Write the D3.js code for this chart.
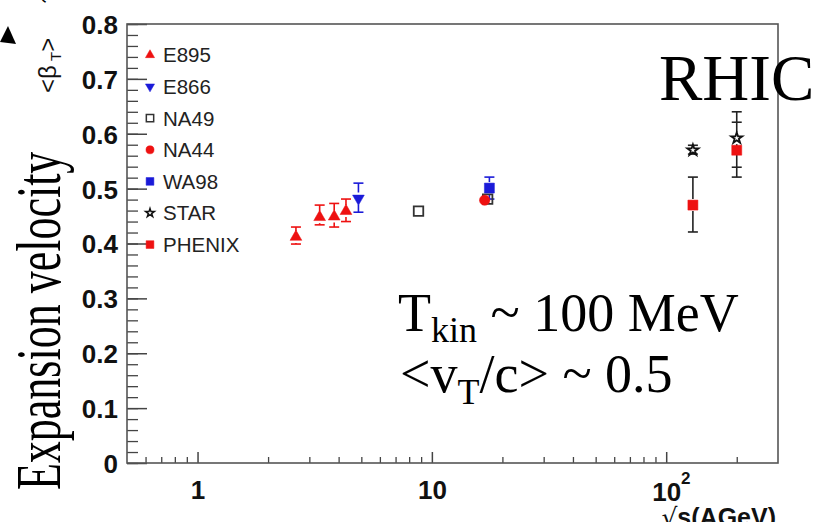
<!DOCTYPE html>
<html>
<head>
<meta charset="utf-8">
<script src="https://cdn.jsdelivr.net/npm/d3@7"></script>
<style>
  body { margin: 0; background: #fff; }
  svg { display: block; }
  .tick text { font-family: "Liberation Sans", Arial, sans-serif; font-weight: bold; fill: #111; }
  .legend text { font-family: "Liberation Sans", Arial, sans-serif; font-size: 20.5px; fill: #222; }
  .serif { font-family: "Liberation Serif", "Times New Roman", serif; fill: #000; }
</style>
</head>
<body>
<div id="chart"></div>
<script>
// data: sqrt(s) in AGeV, <beta_T>, error bar ends
const e895Energy = [2.63, 3.32, 3.83, 4.3]
const e895Beta = [0.412, 0.448, 0.449, 0.459]
const e895Low = [0.399, 0.434, 0.430, 0.440]
const e895High = [0.430, 0.470, 0.473, 0.481]

const e866Energy = [4.86]
const e866Beta = [0.482]
const e866Low = [0.457]
const e866High = [0.510]

const na49Energy = [8.77, 17.3]
const na49Beta = [0.459, 0.481]

const na44Energy = [16.8]
const na44Beta = [0.479]

const wa98Energy = [17.6]
const wa98Beta = [0.501]
const wa98Low = [0.481]
const wa98High = [0.521]

const starEnergy = [130, 200]
const starBeta = [0.570, 0.592]
const starLow = [0.563, 0.521]
const starHigh = [0.579, 0.640]
const starStatLow = [null, 0.539]
const starStatHigh = [null, 0.621]

const phenixEnergy = [130, 200]
const phenixBeta = [0.470, 0.570]
const phenixLow = [0.421, null]
const phenixHigh = [0.521, null]

const legendNames = ['E895', 'E866', 'NA49', 'NA44', 'WA98', 'STAR', 'PHENIX']
const xMajorTicks = [1, 10, 100]
const xMinorTicks = [0.6, 0.7, 0.8, 0.9, 2, 3, 4, 5, 6, 7, 8, 9, 20, 30, 40, 50, 60, 70, 80, 90, 200]
const yMajorTicks = [0, 0.1, 0.2, 0.3, 0.4, 0.5, 0.6, 0.7, 0.8]

const RED = '#ee1111'
const BLUE = '#1a1ad8'
const DARK = '#333'

const series = [
  { name: 'E895', energy: e895Energy, beta: e895Beta, low: e895Low, high: e895High, symbol: d3.symbolTriangle, size: 60, rot: 0, fill: RED, stroke: RED },
  { name: 'E866', energy: e866Energy, beta: e866Beta, low: e866Low, high: e866High, symbol: d3.symbolTriangle, size: 60, rot: 180, fill: BLUE, stroke: BLUE },
  { name: 'NA49', energy: na49Energy, beta: na49Beta, symbol: d3.symbolSquare, size: 90, rot: 0, fill: 'none', stroke: DARK },
  { name: 'NA44', energy: na44Energy, beta: na44Beta, symbol: d3.symbolCircle, size: 85, rot: 0, fill: RED, stroke: RED },
  { name: 'WA98', energy: wa98Energy, beta: wa98Beta, low: wa98Low, high: wa98High, symbol: d3.symbolSquare, size: 100, rot: 0, fill: BLUE, stroke: BLUE },
  { name: 'STAR', energy: starEnergy, beta: starBeta, low: starLow, high: starHigh, statLow: starStatLow, statHigh: starStatHigh, symbol: d3.symbolStar, size: 38, rot: 0, fill: 'none', stroke: '#111' },
  { name: 'PHENIX', energy: phenixEnergy, beta: phenixBeta, low: phenixLow, high: phenixHigh, symbol: d3.symbolSquare, size: 100, rot: 0, fill: RED, stroke: RED }
]

const width = 823
const height = 522
const frame = { left: 127, right: 778, top: 24, bottom: 463 }

const svg = d3.select('#chart').append('svg')
  .attr('width', width)
  .attr('height', height)

const x = d3.scaleLog()
  .domain([0.5, 300])
  .range([frame.left, frame.right])
const y = d3.scaleLinear()
  .domain([0, 0.8])
  .range([frame.bottom, frame.top])

// y axis, ticks inside the frame
const yAxis = svg.append('g')
  .attr('transform', `translate(${frame.left},0)`)
  .call(d3.axisLeft(y).tickValues(yMajorTicks).tickSize(-20).tickPadding(9).tickFormat(d => d === 0 ? '0' : d3.format('.1f')(d)))
yAxis.select('.domain').remove()
yAxis.selectAll('.tick line').attr('stroke', '#444').attr('stroke-width', 1.5)
yAxis.selectAll('.tick text').attr('font-size', 26).attr('dy', '0.36em')

svg.append('g')
  .attr('transform', `translate(${frame.left},0)`)
  .call(d3.axisLeft(y).ticks(40).tickSize(-11).tickFormat(''))
  .call(g => g.select('.domain').remove())
  .selectAll('.tick line').attr('stroke', '#444').attr('stroke-width', 1.3)

// x axis
const xAxis = svg.append('g')
  .attr('transform', `translate(0,${frame.bottom})`)
  .call(d3.axisBottom(x).tickValues(xMajorTicks).tickSize(-11).tickPadding(18).tickFormat(d => d === 100 ? '' : String(d)))
xAxis.select('.domain').remove()
xAxis.selectAll('.tick line').attr('stroke', '#444').attr('stroke-width', 1.5)
xAxis.selectAll('.tick text').attr('font-size', 26)

svg.append('g')
  .attr('transform', `translate(0,${frame.bottom})`)
  .call(d3.axisBottom(x).tickValues(xMinorTicks).tickSize(-6).tickFormat(''))
  .call(g => g.select('.domain').remove())
  .selectAll('.tick line').attr('stroke', '#444').attr('stroke-width', 1.3)

// 10^2 label
const hundred = svg.append('text')
  .attr('x', x(100) - 14)
  .attr('y', frame.bottom + 38)
  .attr('font-family', 'Liberation Sans, Arial, sans-serif')
  .attr('font-weight', 'bold')
  .attr('font-size', 26)
  .attr('fill', '#111')
hundred.append('tspan').text('10')
hundred.append('tspan').attr('dy', -17).attr('font-size', 17).text('2')

// frame
svg.append('rect')
  .attr('x', frame.left)
  .attr('y', frame.top)
  .attr('width', frame.right - frame.left)
  .attr('height', frame.bottom - frame.top)
  .attr('fill', 'none')
  .attr('stroke', '#555')
  .attr('stroke-width', 1.6)

// x title, partly cut by the bottom edge as in the slide
const xTitle = svg.append('text')
  .attr('x', frame.right - 2)
  .attr('y', 526)
  .attr('text-anchor', 'end')
  .attr('font-family', 'Liberation Sans, Arial, sans-serif')
  .attr('font-weight', 'bold')
  .attr('font-size', 25)
  .attr('fill', '#111')
xTitle.append('tspan').attr('font-family', 'DejaVu Sans').attr('font-weight', 'normal').text('√')
xTitle.append('tspan').text('s(AGeV)')

// y title
svg.append('text')
  .attr('transform', 'translate(56,93) rotate(-90)')
  .attr('font-family', 'Liberation Sans, Arial, sans-serif')
  .attr('font-size', 24)
  .attr('fill', '#111')
  .call(t => {
    t.append('tspan').text('<β')
    t.append('tspan').attr('dy', 5).attr('font-size', 15).text(' T')
    t.append('tspan').attr('dy', -5).text('>')
  })

svg.append('text')
  .attr('class', 'serif')
  .attr('transform', 'translate(60,490) rotate(-90) scale(1,1.42)')
  .attr('font-size', 44)
  .text('Expansion velocity')

// error bars
const markerHalf = 6
series.forEach(s => {
  const col = s.name === 'STAR' || s.name === 'PHENIX' ? '#222' : s.stroke
  const g = svg.append('g')
  s.energy.forEach((e, i) => {
    if (!s.low || s.low[i] == null) return
    const cx = x(e)
    const cy = y(s.beta[i])
    const top = y(s.high[i])
    const bot = y(s.low[i])
    if (top < cy - markerHalf) {
      g.append('line').attr('x1', cx).attr('x2', cx).attr('y1', top).attr('y2', cy - markerHalf)
    }
    if (bot > cy + markerHalf) {
      g.append('line').attr('x1', cx).attr('x2', cx).attr('y1', cy + markerHalf).attr('y2', bot)
    }
    const caps = [top, bot]
    if (s.statLow && s.statLow[i] != null) caps.push(y(s.statLow[i]), y(s.statHigh[i]))
    caps.forEach(cy2 => {
      g.append('line').attr('x1', cx - 5).attr('x2', cx + 5).attr('y1', cy2).attr('y2', cy2)
    })
  })
  g.selectAll('line').attr('stroke', col).attr('stroke-width', 1.6)
})

// markers
series.forEach(s => {
  svg.append('g').selectAll('path')
    .data(s.energy.map((e, i) => [e, s.beta[i]]))
    .join('path')
      .attr('d', d3.symbol().type(s.symbol).size(s.size))
      .attr('transform', d => `translate(${x(d[0])},${y(d[1])}) rotate(${s.rot})`)
      .attr('fill', s.fill)
      .attr('stroke', s.stroke)
      .attr('stroke-width', s.fill === 'none' ? 1.8 : 0.5)
})

// legend
const legend = svg.append('g').attr('class', 'legend')
legendNames.forEach((name, i) => {
  const s = series.find(d => d.name === name)
  const ly = 55 + i * 31.6
  legend.append('path')
    .attr('d', d3.symbol().type(s.symbol).size(s.size * 0.6))
    .attr('transform', `translate(150,${ly}) rotate(${s.rot})`)
    .attr('fill', s.fill)
    .attr('stroke', s.stroke)
    .attr('stroke-width', s.fill === 'none' ? 1.5 : 0.5)
  legend.append('text')
    .attr('x', 163)
    .attr('y', ly)
    .attr('dy', '0.36em')
    .text(name)
})

// annotations from the slide
svg.append('text')
  .attr('class', 'serif')
  .attr('x', 659)
  .attr('y', 100)
  .attr('font-size', 65)
  .text('RHIC')

const tkin = svg.append('text')
  .attr('class', 'serif')
  .attr('x', 398)
  .attr('y', 331)
  .attr('font-size', 54)
tkin.append('tspan').text('T')
tkin.append('tspan').attr('dy', 11).attr('font-size', 36).text('kin')
tkin.append('tspan').attr('dy', -11).text(' ~ 100 MeV')

const vt = svg.append('text')
  .attr('class', 'serif')
  .attr('x', 400)
  .attr('y', 392)
  .attr('font-size', 54)
vt.append('tspan').text('<v')
vt.append('tspan').attr('dy', 12).attr('font-size', 36).text('T')
vt.append('tspan').attr('dy', -12).text('/c> ~ 0.5')

// bits of the slide cut off at the edges
svg.append('path')
  .attr('d', 'M8,26 L16,44 L0,42 Z')
  .attr('fill', '#000')
svg.append('text')
  .attr('class', 'serif')
  .attr('transform', 'translate(52,6) rotate(-70)')
  .attr('font-size', 30)
  .text('~')
</script>
</body>
</html>
